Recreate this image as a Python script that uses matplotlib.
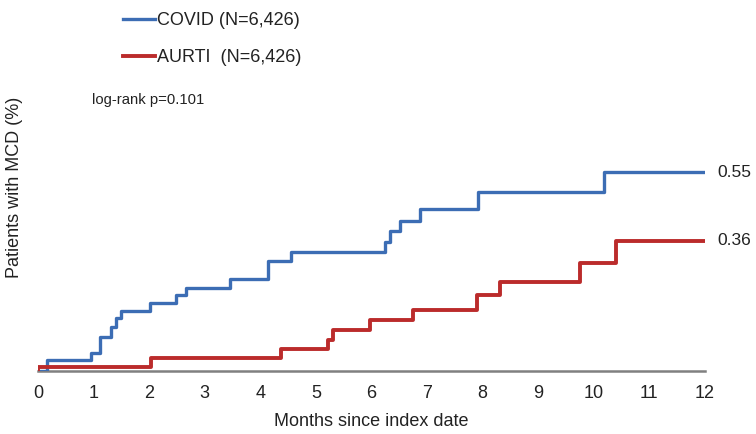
import matplotlib
matplotlib.use('Agg')
import matplotlib.pyplot as plt

plt.rcParams['font.family'] = ['Liberation Sans', 'DejaVu Sans']

# cumulative incidence (%)
covid_months = [0, 0.16, 0.95, 1.12, 1.32, 1.41, 1.50, 2.01, 2.49, 2.66, 3.45, 4.14, 4.55,
                6.24, 6.33, 6.51, 6.87, 7.92, 10.18, 12]
covid_pct = [0, 0.030, 0.050, 0.095, 0.122, 0.147, 0.166, 0.188, 0.209, 0.230, 0.255, 0.303, 0.328,
             0.358, 0.386, 0.416, 0.448, 0.495, 0.55, 0.55]

aurti_months = [0, 0, 2.04, 4.38, 5.22, 5.31, 5.97, 6.75, 7.89, 8.31, 9.75, 10.40, 12]
aurti_pct = [0, 0.012, 0.036, 0.061, 0.086, 0.113, 0.141, 0.169, 0.210, 0.245, 0.298, 0.36, 0.36]

month_ticks = list(range(0, 13))

fig = plt.figure(figsize=(7.56, 4.34), dpi=100)
ax = fig.add_axes([38 / 756, 63 / 434, 667 / 756, 235 / 434])

ax.step(covid_months, covid_pct, where='post', color='#3c6db4', lw=2.4, label='COVID (N=6,426)', zorder=3)
ax.step(aurti_months, aurti_pct, where='post', color='#bb2b2b', lw=2.8, label='AURTI  (N=6,426)', zorder=4)

ax.annotate('0.55', (12, covid_pct[-1]), xytext=(9, 0), textcoords='offset points',
            va='center', fontsize=12.5, color='#222222')
ax.annotate('0.36', (12, aurti_pct[-1]), xytext=(9, 0), textcoords='offset points',
            va='center', fontsize=12.5, color='#222222')

ax.set_xlim(0, 12)
ax.set_ylim(0, 0.65)
ax.set_xticks(month_ticks)
ax.set_yticks([])
ax.tick_params(axis='x', length=0, pad=10, labelsize=13, labelcolor='#222222')
for s in ['top', 'right', 'left']:
    ax.spines[s].set_visible(False)
ax.spines['bottom'].set_color('#808080')
ax.spines['bottom'].set_linewidth(1.8)
ax.set_xlabel('Months since index date', fontsize=13, color='#222222', labelpad=8)

fig.text(15 / 756, 1 - 187 / 434, 'Patients with MCD (%)', rotation=90, ha='center', va='center',
         fontsize=13, color='#222222')
fig.text(92 / 756, 1 - 100 / 434, 'log-rank p=0.101', ha='left', va='center', fontsize=10.7, color='#222222')

fig.legend(loc='upper left', bbox_to_anchor=(123 / 756, 1 - 12 / 434), frameon=False,
           fontsize=13, handlelength=1.78, handletextpad=0.12, borderpad=0, borderaxespad=0,
           labelspacing=1.1, labelcolor='#222222')

fig.savefig('out.png', dpi=100)
